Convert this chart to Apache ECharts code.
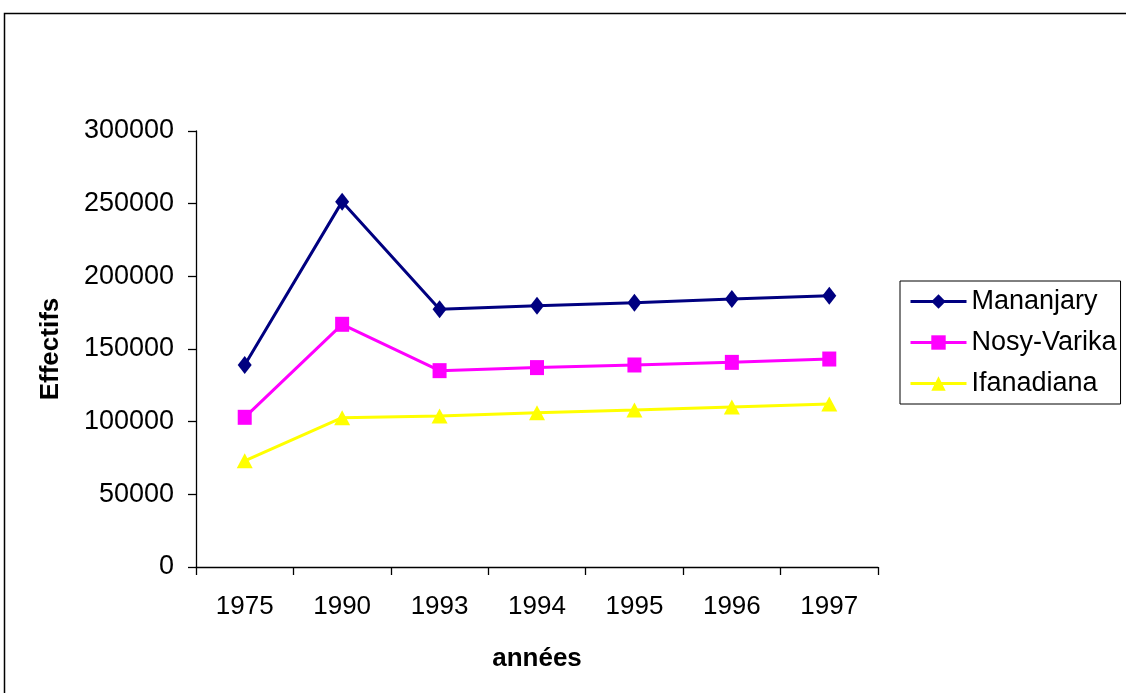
<!DOCTYPE html>
<html>
<head>
<meta charset="utf-8">
<script src="https://cdn.jsdelivr.net/npm/echarts@6/dist/echarts.min.js"></script>
<style>
  html, body { margin: 0; padding: 0; background: #fff; }
  #chart { width: 1126px; height: 693px; }
</style>
</head>
<body>
<div id="chart"></div>
<script>
// Population counts per district, by year
const years = ['1975', '1990', '1993', '1994', '1995', '1996', '1997'];
const mananjary = [139000, 251400, 177300, 179800, 181900, 184400, 186700];
const nosyVarika = [103000, 167000, 135100, 137200, 139000, 140800, 143100];
const ifanadiana = [73100, 102700, 103900, 106200, 108000, 110100, 112200];

const FONT = '"Liberation Sans", Arial, sans-serif';

const chart = echarts.init(document.getElementById('chart'), null, { renderer: 'canvas' });

function lineSeries(name, data, color, symbol, size) {
  return {
    name: name,
    type: 'line',
    data: data,
    symbol: symbol,
    symbolSize: size,
    showSymbol: true,
    lineStyle: { color: color, width: 3 },
    itemStyle: { color: color, borderWidth: 0 },
    emphasis: { disabled: true },
    animation: false
  };
}

chart.setOption({
  animation: false,
  backgroundColor: '#fff',
  textStyle: { fontFamily: FONT },
  graphic: [{
    type: 'rect',
    shape: { x: 4.5, y: 13.5, width: 1300, height: 800 },
    style: { fill: 'none', stroke: '#000', lineWidth: 1.5 },
    silent: true
  }],
  grid: { left: 196, right: 248, top: 131, bottom: 126, containLabel: false },
  legend: {
    orient: 'vertical',
    left: 900,
    top: 281,
    itemWidth: 56,
    itemHeight: 18,
    itemGap: 12,
    padding: [6, 4, 6, 9],
    borderColor: '#000',
    borderWidth: 1,
    lineStyle: { width: 3 },
    textStyle: { fontFamily: FONT, fontSize: 27, color: '#000', lineHeight: 29 },
    data: ['Mananjary', 'Nosy-Varika', 'Ifanadiana']
  },
  xAxis: {
    type: 'category',
    data: years,
    boundaryGap: true,
    name: 'années',
    nameLocation: 'middle',
    nameGap: 79,
    nameTextStyle: { fontFamily: FONT, fontSize: 26, fontWeight: 'bold', color: '#000' },
    axisLine: { lineStyle: { color: '#000', width: 1.3 } },
    axisTick: { show: true, length: 8, lineStyle: { color: '#000', width: 1.3 } },
    axisLabel: { fontFamily: FONT, fontSize: 26, color: '#000', margin: 27 },
    splitLine: { show: false }
  },
  yAxis: {
    type: 'value',
    min: 0,
    max: 300000,
    interval: 50000,
    name: 'Effectifs',
    nameLocation: 'middle',
    nameGap: 132,
    nameTextStyle: { fontFamily: FONT, fontSize: 26, fontWeight: 'bold', color: '#000' },
    axisLine: { show: true, lineStyle: { color: '#000', width: 1.3 } },
    axisTick: { show: true, length: 8, lineStyle: { color: '#000', width: 1.3 } },
    axisLabel: { fontFamily: FONT, fontSize: 27, color: '#000', margin: 22, formatter: v => String(v) },
    splitLine: { show: false }
  },
  series: [
    lineSeries('Mananjary', mananjary, '#000080', 'diamond', [14, 18]),
    lineSeries('Nosy-Varika', nosyVarika, '#FF00FF', 'rect', [14, 15]),
    lineSeries('Ifanadiana', ifanadiana, '#FFFF00', 'triangle', [16, 15])
  ]
});
</script>
</body>
</html>
